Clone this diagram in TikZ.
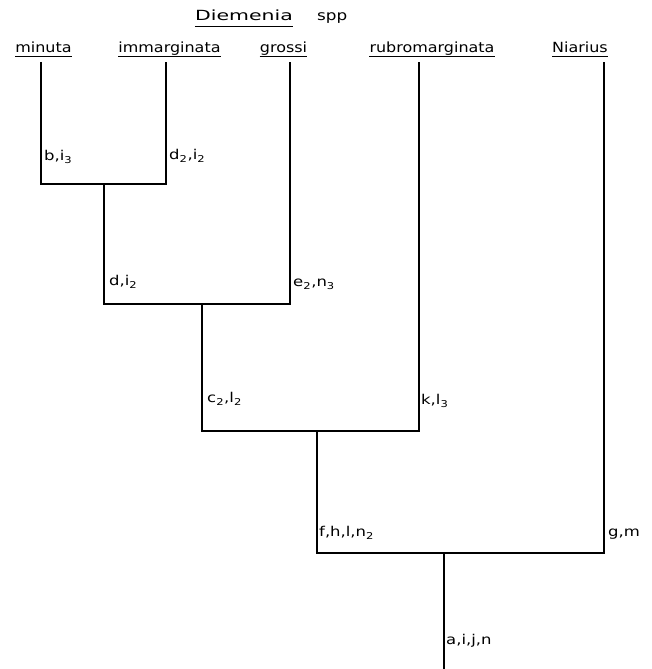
\documentclass[tikz,border=0pt]{standalone}
\usepackage{fontspec}
\setmainfont{DejaVu Sans}
\newcommand\leafw[1]{\scalebox{1.14}[1]{#1}}
\newcommand\brw[1]{\scalebox{1.22}[1]{#1}}
\begin{document}
\begin{tikzpicture}[x=1pt,y=1pt,
  leaf/.style={inner sep=0pt, anchor=base, font=\fontsize{14}{16}\selectfont},
  brl/.style={inner sep=0pt, anchor=base west, font=\fontsize{13.5}{15}\selectfont},
  edge/.style={line width=1.2pt, line join=miter},
  uline/.style={line width=0.9pt}]
\useasboundingbox (0,0) rectangle (652,669);
\fill[white] (0,0) rectangle (652,669);

% title
\node[leaf] (title) at (244,648) {\scalebox{1.46}[1]{Diemenia}};
\node[leaf, anchor=base west] (spp) at (317,648) {\scalebox{1.2}[1]{spp}};
\draw[uline] ([yshift=-5pt]title.base west) -- ([yshift=-5pt]title.base east);

% leaves
\node[leaf] (minuta) at (43.5,616) {\leafw{minuta}};
\node[leaf] (immarg) at (169.5,616) {\leafw{immarginata}};
\node[leaf] (grossi) at (283.5,616) {\leafw{grossi}};
\node[leaf] (rubro) at (432,616) {\leafw{rubromarginata}};
\node[leaf] (niar) at (580,616) {\leafw{Niarius}};
\foreach \n in {minuta,immarg,grossi,rubro,niar}
  \draw[uline] ([yshift=-3.5pt]\n.base west) -- ([yshift=-3.5pt]\n.base east);

% line tops
\coordinate (t1) at (41,607);
\coordinate (t2) at (166,607);
\coordinate (t3) at (290,607);
\coordinate (t4) at (419,607);
\coordinate (t5) at (604,607);
% joins
\coordinate (j1) at (104,485);
\coordinate (j2) at (202,365);
\coordinate (j3) at (317,238);
\coordinate (j4) at (444,116);
\coordinate (root) at (444,0);

\draw[edge] (t1) |- (j1) -| (t2);
\draw[edge] (j1) |- (j2) -| (t3);
\draw[edge] (j2) |- (j3) -| (t4);
\draw[edge] (j3) |- (j4) -| (t5);
\draw[edge] (j4) -- (root);

% branch labels
\node[brl] (l1) at (44,508) {\brw{b,i\textsubscript{3}}};
\node[brl] (l2) at (169,509) {\brw{d\textsubscript{2},i\textsubscript{2}}};
\node[brl] (l3) at (109,383) {\brw{d,i\textsubscript{2}}};
\node[brl] (l4) at (293,382) {\brw{e\textsubscript{2},n\textsubscript{3}}};
\node[brl] (l5) at (207,266) {\brw{c\textsubscript{2},l\textsubscript{2}}};
\node[brl] (l6) at (421,264) {\brw{k,l\textsubscript{3}}};
\node[brl] (l7) at (319,132) {\brw{f,h,l,n\textsubscript{2}}};
\node[brl] (l8) at (608,132) {\brw{g,m}};
\node[brl] (l9) at (446,24) {\brw{a,i,j,n}};
\end{tikzpicture}
\end{document}
